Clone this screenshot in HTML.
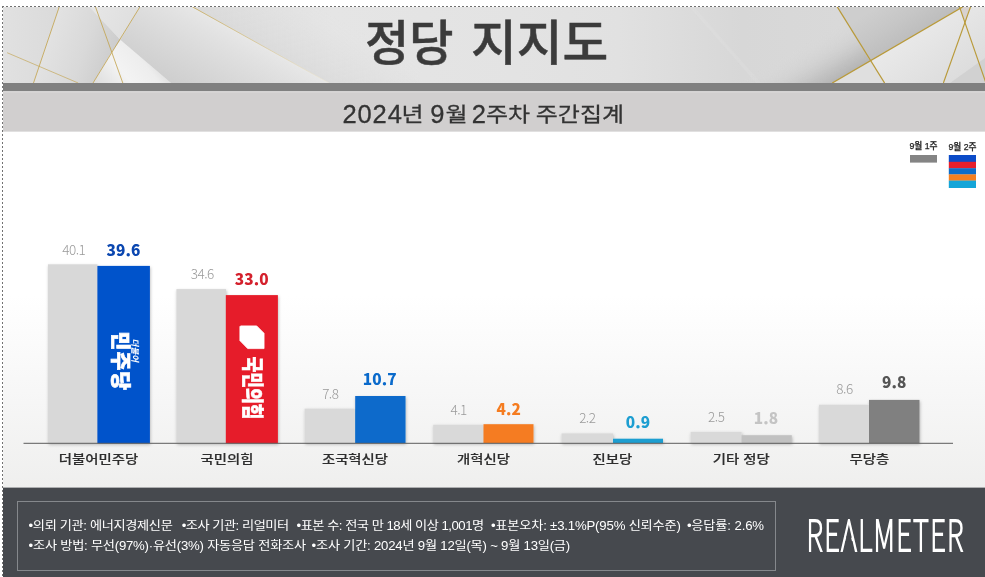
<!DOCTYPE html>
<html lang="ko">
<head>
<meta charset="utf-8">
<title>정당 지지도</title>
<style>
  html, body { margin: 0; padding: 0; background: #ffffff; }
  body { width: 985px; height: 577px; overflow: hidden; position: relative; }
  svg { position: absolute; left: 0; top: 0; display: block; will-change: transform; }
  .ko { font-family: "Liberation Sans", "Noto Sans CJK KR", "NanumGothic", sans-serif; }
  .kr { font-family: "Noto Sans CJK KR", "NanumGothic", "Liberation Sans", sans-serif; }
  .title { font-size: 48px; font-weight: 500; fill: #3b3b3b; letter-spacing: 0px; stroke: #3b3b3b; stroke-width: 0.5px; }
  .sub { font-size: 22px; font-weight: 400; fill: #333333; stroke: #333333; stroke-width: 0.3px; }
  .sub .dg { font-size: 25.5px; }
  .sub .hg { font-size: 24px; }
  .cat { font-size: 14.4px; font-weight: 500; fill: #2e2e2e; stroke: #2e2e2e; stroke-width: 0.2px; }
  .prev { font-size: 13.5px; font-weight: 300; fill: #9a9a9a; letter-spacing: -0.5px; }
  .cur { font-size: 15.4px; font-weight: 900; letter-spacing: 0.1px; }
  .leg { font-size: 8.7px; font-weight: 500; fill: #1e1e1e; stroke: #1e1e1e; stroke-width: 0.25px; }
  .foot { font-size: 13.2px; font-weight: 400; fill: #ffffff; }
</style>
</head>
<body>
<svg width="985" height="577" viewBox="0 0 985 577">
  <defs>
    <linearGradient id="chartbg" x1="0" y1="0" x2="0" y2="1">
      <stop offset="0" stop-color="#ffffff"/>
      <stop offset="0.46" stop-color="#ffffff"/>
      <stop offset="0.76" stop-color="#f6f6f6"/>
      <stop offset="1" stop-color="#efefee"/>
    </linearGradient>

    <!-- header art gradients -->
    <linearGradient id="gL0" gradientUnits="userSpaceOnUse" x1="3" y1="0" x2="60" y2="0">
      <stop offset="0" stop-color="#e1e1e1"/><stop offset="1" stop-color="#dadada"/>
    </linearGradient>
    <linearGradient id="gPA" gradientUnits="userSpaceOnUse" x1="48" y1="30" x2="118" y2="55">
      <stop offset="0" stop-color="#e3e3e3"/><stop offset="0.55" stop-color="#d9d9d9"/><stop offset="1" stop-color="#cbcbcb"/>
    </linearGradient>
    <linearGradient id="gPB" gradientUnits="userSpaceOnUse" x1="95" y1="7" x2="135" y2="30">
      <stop offset="0" stop-color="#e6e6e6"/><stop offset="1" stop-color="#dedede"/>
    </linearGradient>
    <linearGradient id="gPC" gradientUnits="userSpaceOnUse" x1="100" y1="90" x2="150" y2="50">
      <stop offset="0" stop-color="#dddddd"/><stop offset="0.45" stop-color="#f3f3f3"/><stop offset="0.8" stop-color="#ededed"/><stop offset="1" stop-color="#dcdcdc"/>
    </linearGradient>
    <linearGradient id="gPD" gradientUnits="userSpaceOnUse" x1="150" y1="75" x2="188.8" y2="5">
      <stop offset="0" stop-color="#cdcdcd"/><stop offset="0.45" stop-color="#d8d8d8"/><stop offset="0.8" stop-color="#e1e1e1"/><stop offset="0.97" stop-color="#e6e6e6"/><stop offset="1" stop-color="#e8e8e8"/>
    </linearGradient>
    <linearGradient id="gL5r" gradientUnits="userSpaceOnUse" x1="260.7" y1="45" x2="289.8" y2="-7.5">
      <stop offset="0" stop-color="#d6d6d6" stop-opacity="0.6"/><stop offset="0.5" stop-color="#dcdcdc" stop-opacity="0.35"/><stop offset="1" stop-color="#e4e4e4" stop-opacity="0"/>
    </linearGradient>
    <linearGradient id="gMid" gradientUnits="userSpaceOnUse" x1="190" y1="0" x2="840" y2="0">
      <stop offset="0" stop-color="#dfdfdf"/><stop offset="0.22" stop-color="#e5e5e5"/><stop offset="0.5" stop-color="#e3e3e3"/><stop offset="0.66" stop-color="#e1e1e1"/><stop offset="0.85" stop-color="#d7d7d7"/><stop offset="1" stop-color="#d9d9d9"/>
    </linearGradient>
    <linearGradient id="gStreak" gradientUnits="userSpaceOnUse" x1="700" y1="60" x2="740" y2="25">
      <stop offset="0" stop-color="#ffffff" stop-opacity="0"/><stop offset="0.5" stop-color="#ffffff" stop-opacity="0"/><stop offset="0.52" stop-color="#ffffff" stop-opacity="0.07"/><stop offset="1" stop-color="#ffffff" stop-opacity="0"/>
    </linearGradient>
    <linearGradient id="gRShadow" gradientUnits="userSpaceOnUse" x1="870" y1="61" x2="846" y2="20">
      <stop offset="0" stop-color="#b4b4b4" stop-opacity="1"/><stop offset="0.25" stop-color="#c0c0c0" stop-opacity="0.9"/><stop offset="0.6" stop-color="#cecece" stop-opacity="0.5"/><stop offset="1" stop-color="#d8d8d8" stop-opacity="0"/>
    </linearGradient>
    <linearGradient id="gRDark" gradientUnits="userSpaceOnUse" x1="905" y1="45" x2="880" y2="5">
      <stop offset="0" stop-color="#bcbcbc"/><stop offset="0.5" stop-color="#c6c6c6"/><stop offset="1" stop-color="#cecece"/>
    </linearGradient>
    <linearGradient id="gRLight" gradientUnits="userSpaceOnUse" x1="900" y1="40" x2="940" y2="95">
      <stop offset="0" stop-color="#e9e9e9"/><stop offset="1" stop-color="#dcdcdc"/>
    </linearGradient>
    <linearGradient id="gGoldFade" gradientUnits="userSpaceOnUse" x1="192" y1="7" x2="329" y2="83">
      <stop offset="0" stop-color="#c9ae62" stop-opacity="0.9"/><stop offset="0.45" stop-color="#d6c28a" stop-opacity="0.75"/><stop offset="1" stop-color="#efe9d6" stop-opacity="0.5"/>
    </linearGradient>
    <filter id="soft" x="-5%" y="-20%" width="110%" height="140%"><feGaussianBlur stdDeviation="0.7"/></filter>
    <filter id="sh" x="-20%" y="-20%" width="140%" height="140%">
      <feDropShadow dx="0.6" dy="1.4" stdDeviation="1.5" flood-color="#000000" flood-opacity="0.26"/>
    </filter>
    <clipPath id="hdrclip"><rect x="3" y="7" width="982" height="76"/></clipPath>
  </defs>

  <!-- page -->
  <rect x="0" y="0" width="985" height="577" fill="#ffffff"/>

  <!-- header band -->
  <g id="header" clip-path="url(#hdrclip)">
    <rect x="3" y="7" width="982" height="76" fill="url(#gMid)"/>
    <g filter="url(#soft)">
    <!-- left cluster -->
    <polygon points="3,7 60,7 33,83 3,83" fill="url(#gL0)"/>
    <polygon points="59.3,7 89.5,7 120.5,40 93,83 33.5,83" fill="url(#gPA)"/>
    <polygon points="89.5,7 140,7 120.5,40" fill="url(#gPB)"/>
    <polygon points="140,7 192.4,7 329,83 171,83 120.5,40" fill="url(#gPD)"/>
    <polygon points="120.5,40 171,83 93,83 111.3,52.7" fill="url(#gPC)"/>
    <polygon points="192.4,7 420,7 420,83 329,83" fill="url(#gL5r)"/>
    <!-- faint streak on the right-middle -->
    <polygon points="640,7 694,7 761,83 700,83" fill="url(#gStreak)"/>
    <!-- right cluster -->
    <polygon points="680,7 837.1,7 870.2,61 832.2,83 680,83" fill="url(#gRShadow)"/>
    <polygon points="837.1,7 962,7 870.2,61" fill="url(#gRDark)"/>
    <polygon points="962,7 985,7 985,83 884.6,83 870.2,61" fill="url(#gRLight)"/>
    <polygon points="832.2,83 870.2,61 884.6,83" fill="#dfdfdf"/>
    <polygon points="959.4,7 970.6,7 965.4,22" fill="#d8d2cf"/>
    <polygon points="950,83 985,58 985,83" fill="#cfcfcf" opacity="0.85"/>
    </g>
    <!-- gold lines -->
    <g stroke="#c2a24c" stroke-width="0.9" fill="none" stroke-opacity="0.9">
      <line x1="59.3" y1="6.6" x2="33.5" y2="83"/>
      <line x1="95.4" y1="6.6" x2="122.8" y2="83"/>
      <line x1="140.1" y1="6.6" x2="93" y2="83"/>
      <line x1="7.1" y1="52.7" x2="78.2" y2="83" stroke-opacity="0.7"/>
      <line x1="837.1" y1="6.6" x2="884.6" y2="83" stroke="#b99a3a" stroke-width="1.25" stroke-opacity="1"/>
      <line x1="832.2" y1="83" x2="962.6" y2="7" stroke="#b99a3a" stroke-width="1.35" stroke-opacity="1"/>
      <line x1="970.6" y1="6.6" x2="943.4" y2="83" stroke="#b99a3a" stroke-width="1.15" stroke-opacity="1"/>
      <line x1="959.4" y1="6.6" x2="985.6" y2="82" stroke="#b99a3a" stroke-width="1.15" stroke-opacity="1"/>
    </g>
    <line x1="192.4" y1="6.8" x2="329" y2="83" stroke="url(#gGoldFade)" stroke-width="1"/>
  </g>

  <!-- dark divider + subtitle band -->
  <rect x="3" y="83" width="982" height="8.4" fill="#808080"/>
  <rect x="3" y="91.4" width="982" height="40.4" fill="#d1cfcf"/>
  <rect x="3" y="91.4" width="982" height="1.2" fill="#dad8d8"/>

  <!-- chart background -->
  <rect x="3" y="131.8" width="982" height="356" fill="url(#chartbg)"/>

  <!-- footer -->
  <rect x="3" y="487.6" width="982" height="89.4" fill="#46494e"/>
  <rect x="17.5" y="501.5" width="758" height="69" fill="none" stroke="#85888c" stroke-width="1"/>

  <!-- dotted frame (top + left) -->
  <line x1="2" y1="6.5" x2="985" y2="6.5" stroke="#707070" stroke-width="1" stroke-dasharray="2 2"/>
  <line x1="2.5" y1="6" x2="2.5" y2="577" stroke="#727272" stroke-width="1" stroke-dasharray="2 2"/>

  <!-- titles -->
  <g class="ko title" id="title">
    <text id="t1" transform="translate(365 60)" x="0" y="0">정당 </text>
    <text id="t2" transform="translate(471 60) scale(1.036 1)" x="0" y="0">지지도</text>
  </g>
  <g class="ko sub" id="subtitle">
    <text class="dg" x="342.4" y="122.8" style="letter-spacing:0.9px">2024</text>
    <text class="hg" transform="translate(401.4 122.4) scale(1 0.86)">년 </text>
    <text class="dg" x="430.2" y="122.8">9</text>
    <text class="hg" transform="translate(445.4 122.4) scale(1 0.86)">월 </text>
    <text class="dg" x="471.8" y="122.8">2</text>
    <text class="hg" transform="translate(486 122.4) scale(1 0.86)">주차 </text>
    <text class="hg" transform="translate(535.8 122.4) scale(1 0.86)">주간집계</text>
  </g>

  <!-- bars -->
  <g id="bars" filter="url(#sh)">
    <rect x="48"    y="264.3" width="49.5" height="178.9" fill="#d8d8d8"/>
    <rect x="97.4"  y="265.9" width="52.5" height="177.4" fill="#0352cb"/>
    <rect x="176.4" y="289.1" width="49.6" height="154.1" fill="#d8d8d8"/>
    <rect x="225.8" y="295.1" width="52.1" height="148.2" fill="#e61e2a"/>
    <rect x="304.6" y="408.6" width="50.6" height="34.4"  fill="#d9d9d9"/>
    <rect x="355.2" y="396"   width="50.3" height="47"    fill="#0a6acb"/>
    <rect x="433.2" y="424.7" width="50.3" height="18.3"  fill="#d9d9d9"/>
    <rect x="483.5" y="424.2" width="50"   height="18.8"  fill="#f57c20"/>
    <rect x="561.5" y="433.4" width="51.5" height="9.6"   fill="#d9d9d9"/>
    <rect x="613"   y="438.7" width="50"   height="4.3"   fill="#1d9ed1"/>
    <rect x="690.6" y="431.8" width="51"   height="11.2"  fill="#d9d9d9"/>
    <rect x="741.6" y="435.2" width="50.2" height="7.8"   fill="#c1c1c1"/>
    <rect x="819"   y="404.7" width="50"   height="38.3"  fill="#d9d9d9"/>
    <rect x="869"   y="399.9" width="50.5" height="43.1"  fill="#808080"/>
  </g>

  <!-- party marks inside the bars (rotated) -->
  <g id="marks" fill="#ffffff">
    <text class="kr" id="mj" transform="translate(113.3 331.6) rotate(90)" style="font-size:20.5px;font-weight:900;stroke:#ffffff;stroke-width:0.7px;letter-spacing:1px">민주당</text>
    <text class="kr" id="db" transform="translate(131.8 338.6) rotate(90) skewX(-12)" style="font-size:8.5px;font-weight:700">더불어</text>
    <path d="M240.6 325.9 L256.7 325.9 L264.05 333.3 L264.05 348.6 L247.7 348.6 L239.9 340.6 L239.9 326.6 Z" stroke="#ffffff" stroke-width="0.8" stroke-linejoin="round"/>
    <text class="kr" id="pp" transform="translate(244.6 356.4) rotate(90) scale(0.80 1)" style="font-size:21.5px;font-weight:900;stroke:#ffffff;stroke-width:0.5px">국민의힘</text>
  </g>
  <!-- axis -->
  <line x1="23.5" y1="443.3" x2="953" y2="443.3" stroke="#5c5c5c" stroke-width="1"/>

  <!-- previous-week values -->
  <g class="kr prev" text-anchor="middle">
    <text x="73.8"  y="254.8">40.1</text>
    <text x="202.3" y="279.3">34.6</text>
    <text x="330.3" y="399">7.8</text>
    <text x="458.6" y="414.8">4.1</text>
    <text x="587.3" y="422.8">2.2</text>
    <text x="716.2" y="422">2.5</text>
    <text x="844.5" y="394.4">8.6</text>
  </g>
  <!-- current-week values -->
  <g class="kr cur" text-anchor="middle">
    <text x="123.5" y="256.1" fill="#0b47b0">39.6</text>
    <text x="251.8" y="285.3" fill="#d4202c">33.0</text>
    <text x="379.8" y="385"   fill="#0a6acb">10.7</text>
    <text x="508.8" y="414.7" fill="#f57c20">4.2</text>
    <text x="638"   y="428.2" fill="#1d9ed1">0.9</text>
    <text x="766.1" y="424.2" fill="#c4c4c4">1.8</text>
    <text x="894.3" y="388.1" fill="#555555">9.8</text>
  </g>

  <!-- category labels -->
  <g class="ko cat" text-anchor="middle" transform="translate(0 463.9) scale(1 0.84)">
    <text x="98.5"  y="0">더불어민주당</text>
    <text x="227"   y="0">국민의힘</text>
    <text x="355"   y="0">조국혁신당</text>
    <text x="483.6" y="0">개혁신당</text>
    <text x="612.3" y="0">진보당</text>
    <text x="741.3" y="0">기타 정당</text>
    <text x="869.4" y="0">무당층</text>
  </g>

  <!-- legend -->
  <g class="ko leg" text-anchor="middle">
    <text x="923.5" y="149.2">9월 1주</text>
    <text x="962.5" y="150.4">9월 2주</text>
  </g>
  <rect x="910" y="155" width="27" height="7.6" fill="#848484"/>
  <rect x="948.8" y="155"   width="27.2" height="7"   fill="#0b4bc8"/>
  <rect x="948.8" y="161.8" width="27.2" height="6.6" fill="#e61f2c"/>
  <rect x="948.8" y="168.2" width="27.2" height="6.4" fill="#0d6dc9"/>
  <rect x="948.8" y="174.4" width="27.2" height="6.4" fill="#f58020"/>
  <rect x="948.8" y="180.6" width="27.2" height="7.4" fill="#14a5d8"/>


  <!-- wordmark -->
  <g id="wordmark" style="will-change:transform">
    <text id="rm" class="kr" transform="translate(806.6 550.8) scale(0.65 1)" style="font-size:42.5px;font-weight:100;letter-spacing:2.05px;fill:#ffffff;stroke:#ffffff;stroke-width:1.5px" vector-effect="non-scaling-stroke">REALMETER</text>
    <!-- the brand draws its A without a crossbar -->
    <path d="M846.55 536.3 L850.75 536.3 L852.0 541.3 L845.3 541.3 Z" fill="#46494e"/>
  </g>
  <!-- footer text -->
  <g class="ko foot">
    <text transform="translate(0 529.9) scale(1 0.92)" y="0"><tspan id="f1" x="28.6" textLength="144.2">•의뢰 기관: 에너지경제신문</tspan> <tspan id="f2" x="181.7" textLength="107.4">•조사 기관: 리얼미터</tspan> <tspan id="f3" x="296.6" textLength="187.6">•표본 수: 전국 만 18세 이상 1,001명</tspan> <tspan id="f4" x="490.9" textLength="190">•표본오차: ±3.1%P(95% 신뢰수준)</tspan> <tspan id="f5" x="686.9" textLength="77.2">•응답률: 2.6%</tspan></text>
    <text transform="translate(0 549.7) scale(1 0.92)" y="0"><tspan id="f6" x="28.6" textLength="277.5">•조사 방법: 무선(97%)·유선(3%) 자동응답 전화조사</tspan> <tspan id="f7" x="311.6" textLength="258.6">•조사 기간: 2024년 9월 12일(목) ~ 9월 13일(금)</tspan></text>
  </g>
</svg>
</body>
</html>
